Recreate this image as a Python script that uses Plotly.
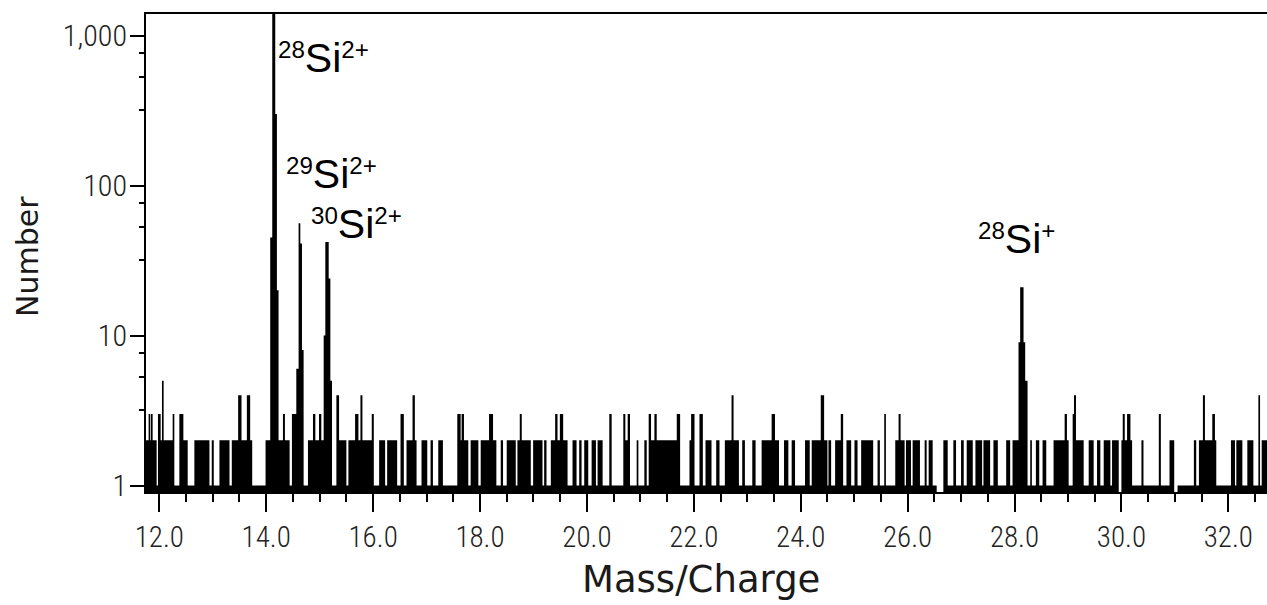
import math
import plotly.graph_objects as go

# ---- spectrum: run-length encoded histogram (bin start m/q, count) ----
run_start_mz = [
    11.750, 11.800, 11.831, 11.844, 11.875, 11.950, 11.975, 12.025, 12.050, 12.081,
    12.250, 12.281, 12.375, 12.450, 12.531, 12.656, 12.938, 12.981, 13.019, 13.125,
    13.313, 13.356, 13.475, 13.538, 13.638, 13.700, 13.738, 13.988, 14.075, 14.113,
    14.169, 14.200, 14.231, 14.313, 14.350, 14.438, 14.481, 14.563, 14.606, 14.638,
    14.669, 14.700, 14.781, 14.875, 14.919, 14.988, 15.031, 15.075, 15.106, 15.169,
    15.200, 15.231, 15.313, 15.363, 15.500, 15.538, 15.663, 15.725, 15.763, 15.800,
    15.975, 16.013, 16.113, 16.225, 16.263, 16.450, 16.513, 16.575, 16.625, 16.738,
    16.781, 16.813, 16.906,
    17.013, 17.075, 17.119, 17.219, 17.306, 17.575, 17.638, 17.656, 17.700, 17.781,
    17.825, 17.969, 18.013, 18.169, 18.244, 18.306, 18.388, 18.431, 18.500, 18.669,
    18.700, 18.744, 18.781, 18.950, 18.994, 19.169, 19.200, 19.244, 19.325, 19.406,
    19.450, 19.494, 19.556, 19.638, 19.731, 19.806, 19.856, 19.900, 19.950, 20.025,
    20.088, 20.169, 20.200, 20.294, 20.419, 20.463, 20.681, 20.719, 20.763, 20.806,
    20.931, 20.963, 21.075, 21.119, 21.156, 21.200, 21.263, 21.306, 21.681, 21.744,
    21.919, 21.950, 22.013, 22.106, 22.169,
    22.219, 22.331, 22.419, 22.481, 22.581, 22.706, 22.744, 22.844, 22.906, 22.956,
    23.094, 23.156, 23.269, 23.456, 23.519, 23.594, 23.688, 23.769, 23.831, 23.894,
    24.081, 24.169, 24.206, 24.375, 24.438, 24.500, 24.519, 24.569, 24.644, 24.750,
    24.794, 24.856, 24.944, 25.006, 25.063, 25.131, 25.356, 25.438, 25.481, 25.563,
    25.594, 25.769, 25.831, 25.869, 25.944, 25.969, 26.063, 26.094, 26.231, 26.319,
    26.356, 26.394, 26.469, 26.544, 26.669, 26.750, 26.856, 26.906, 27.000, 27.050,
    27.106, 27.219, 27.269, 27.394, 27.419,
    27.544, 27.606, 27.688, 27.844, 27.919, 27.963, 28.075, 28.106, 28.169, 28.200,
    28.244, 28.294, 28.325, 28.400, 28.463, 28.525, 28.594, 28.731, 28.938, 28.981,
    29.013, 29.088, 29.113, 29.150, 29.294, 29.388, 29.481, 29.544, 29.606, 29.669,
    29.794, 29.825, 29.950, 30.000, 30.025, 30.063, 30.106, 30.169, 30.200, 30.375,
    30.413, 30.700, 30.738, 30.900, 30.988, 31.050, 31.356, 31.400, 31.450, 31.525,
    31.563, 31.700, 31.750, 31.775, 32.050, 32.125, 32.150, 32.263, 32.356, 32.469,
    32.563, 32.594, 32.625,
]
run_count = [
    2, 3, 2, 3, 2, 1, 3, 2, 5, 2,
    3, 1, 3, 2, 1, 2, 1, 2, 1, 2,
    1, 2, 4, 2, 4, 2, 1, 2, 45, 1500,
    300, 20, 2, 3, 2, 1, 3, 6, 56, 41,
    8, 1, 2, 3, 2, 3, 2, 10, 42, 24,
    5, 1, 4, 2, 1, 2, 3, 2, 4, 2,
    3, 1, 2, 1, 2, 1, 3, 1, 2, 4,
    2, 1, 2,
    1, 2, 1, 2, 1, 3, 2, 3, 2, 1,
    2, 1, 2, 3, 2, 1, 2, 1, 2, 1,
    2, 3, 2, 1, 2, 1, 2, 1, 2, 3,
    2, 3, 2, 1, 2, 1, 2, 1, 2, 1,
    2, 1, 2, 1, 3, 1, 3, 2, 3, 1,
    2, 1, 2, 1, 3, 2, 3, 2, 3, 1,
    2, 3, 1, 3, 1,
    2, 1, 2, 1, 2, 4, 2, 1, 2, 1,
    2, 1, 2, 3, 2, 1, 2, 1, 2, 1,
    2, 1, 2, 4, 2, 1, 2, 1, 2, 3,
    1, 2, 1, 2, 1, 2, 1, 2, 1, 3,
    1, 2, 3, 2, 1, 2, 1, 2, 1, 2,
    1, 2, 1, 0, 2, 1, 2, 1, 2, 1,
    2, 1, 2, 1, 2,
    1, 2, 1, 2, 1, 2, 9, 21, 9, 5,
    1, 2, 1, 2, 1, 2, 1, 2, 3, 2,
    1, 3, 4, 2, 1, 2, 1, 2, 1, 2,
    1, 2, 0, 2, 3, 2, 3, 2, 1, 2,
    1, 3, 1, 2, 0, 1, 2, 1, 2, 4,
    2, 3, 2, 1, 2, 1, 2, 1, 2, 1,
    4, 1, 2,
]
spectrum_end_mz = 32.75

# ---- axes ----
x_range = [11.751, 32.724]
y_range_counts = [0.905, 1391.0]
x_tick_vals = [12.0, 14.0, 16.0, 18.0, 20.0, 22.0, 24.0, 26.0, 28.0, 30.0, 32.0]
x_tick_text = ["12.0", "14.0", "16.0", "18.0", "20.0", "22.0", "24.0", "26.0", "28.0", "30.0", "32.0"]
y_tick_vals = [1, 10, 100, 1000]
y_tick_text = ["1", "10", "100", "1,000"]
y_minor_factors = [0.76, 0.53, 0.32]

# ---- peak labels: (mass number, element, charge, left m/q, baseline-anchor count) ----
label_mass = ["28", "29", "30", "28"]
label_elem = ["Si", "Si", "Si", "Si"]
label_charge = ["2+", "2+", "2+", "+"]
label_x = [14.19, 14.34, 14.80, 27.28]
label_y = [486.0, 80.7, 38.0, 30.2]

# ---- build step outline ----
floor = 0.5  # zero counts drawn below the axis bottom
xs = list(run_start_mz) + [spectrum_end_mz]
ys = [c if c > 0 else floor for c in run_count]
ys = ys + [ys[-1]]

fig = go.Figure()
fig.add_trace(go.Scatter(
    x=xs, y=ys, mode="lines", line=dict(shape="hv", width=0, color="black"),
    fill="tozeroy", fillcolor="black", hoverinfo="skip", showlegend=False,
))

y_minor_vals = []
for k in range(0, 4):
    for f in y_minor_factors:
        v = f * 10 ** k
        if v > y_range_counts[0]:
            y_minor_vals.append(v)

thin_family = "Roboto Condensed, Lato, DejaVu Sans Condensed, sans-serif"
tick_font = dict(family=thin_family, size=29, color="#222", weight=300)
y_tick_font = dict(family=thin_family, size=30, color="#222", weight=300)

fig.update_xaxes(
    range=x_range, showgrid=False, zeroline=False,
    showline=True, linecolor="black", linewidth=2, mirror=True,
    ticks="outside", ticklen=18, tickwidth=2, tickcolor="black",
    tickvals=x_tick_vals, ticktext=x_tick_text, tickfont=tick_font,
    minor=dict(dtick=0.5, tick0=12.0, ticks="outside", ticklen=8, tickwidth=1.5,
               tickcolor="black", showgrid=False),
)
fig.update_yaxes(
    type="log", range=[math.log10(y_range_counts[0]), math.log10(y_range_counts[1])],
    showgrid=False, zeroline=False,
    showline=True, linecolor="black", linewidth=2,
    ticks="outside", ticklen=14, tickwidth=2, tickcolor="black",
    tickvals=y_tick_vals, ticktext=y_tick_text, tickfont=y_tick_font,
    ticklabelstandoff=-3,
    minor=dict(tickmode="array", tickvals=y_minor_vals, ticks="outside", ticklen=5,
               tickwidth=1.5, tickcolor="black", showgrid=False),
)

annotations = []
for m, e, c, lx, ly in zip(label_mass, label_elem, label_charge, label_x, label_y):
    annotations.append(dict(
        x=lx, y=math.log10(ly), xref="x", yref="y",
        text=f"<sup>{m}</sup><span style='font-size:41px'>{e}</span><sup>{c}</sup>",
        showarrow=False, xanchor="left", yanchor="bottom",
        font=dict(family="Liberation Sans, Arial", size=34.5, color="black"),
    ))

annotations.append(dict(
    text="Number", xref="paper", yref="paper", x=-0.1062, y=0.4937,
    xanchor="center", yanchor="middle", textangle=-90, showarrow=False,
    font=dict(family="DejaVu Sans, sans-serif", size=30, color="#1a1a1a"),
))
annotations.append(dict(
    text="Mass/Charge", xref="paper", yref="paper", x=0.495, y=-0.183,
    xanchor="center", yanchor="middle", showarrow=False,
    font=dict(family="DejaVu Sans, sans-serif", size=37, color="#1a1a1a"),
))

fig.update_layout(
    width=1267, height=605,
    margin=dict(l=146, r=0, t=14, b=113),
    paper_bgcolor="white", plot_bgcolor="white",
    annotations=annotations, showlegend=False,
)

fig.write_html("out.html", config={"displayModeBar": False},
               post_script="document.body.style.margin='0px';")
